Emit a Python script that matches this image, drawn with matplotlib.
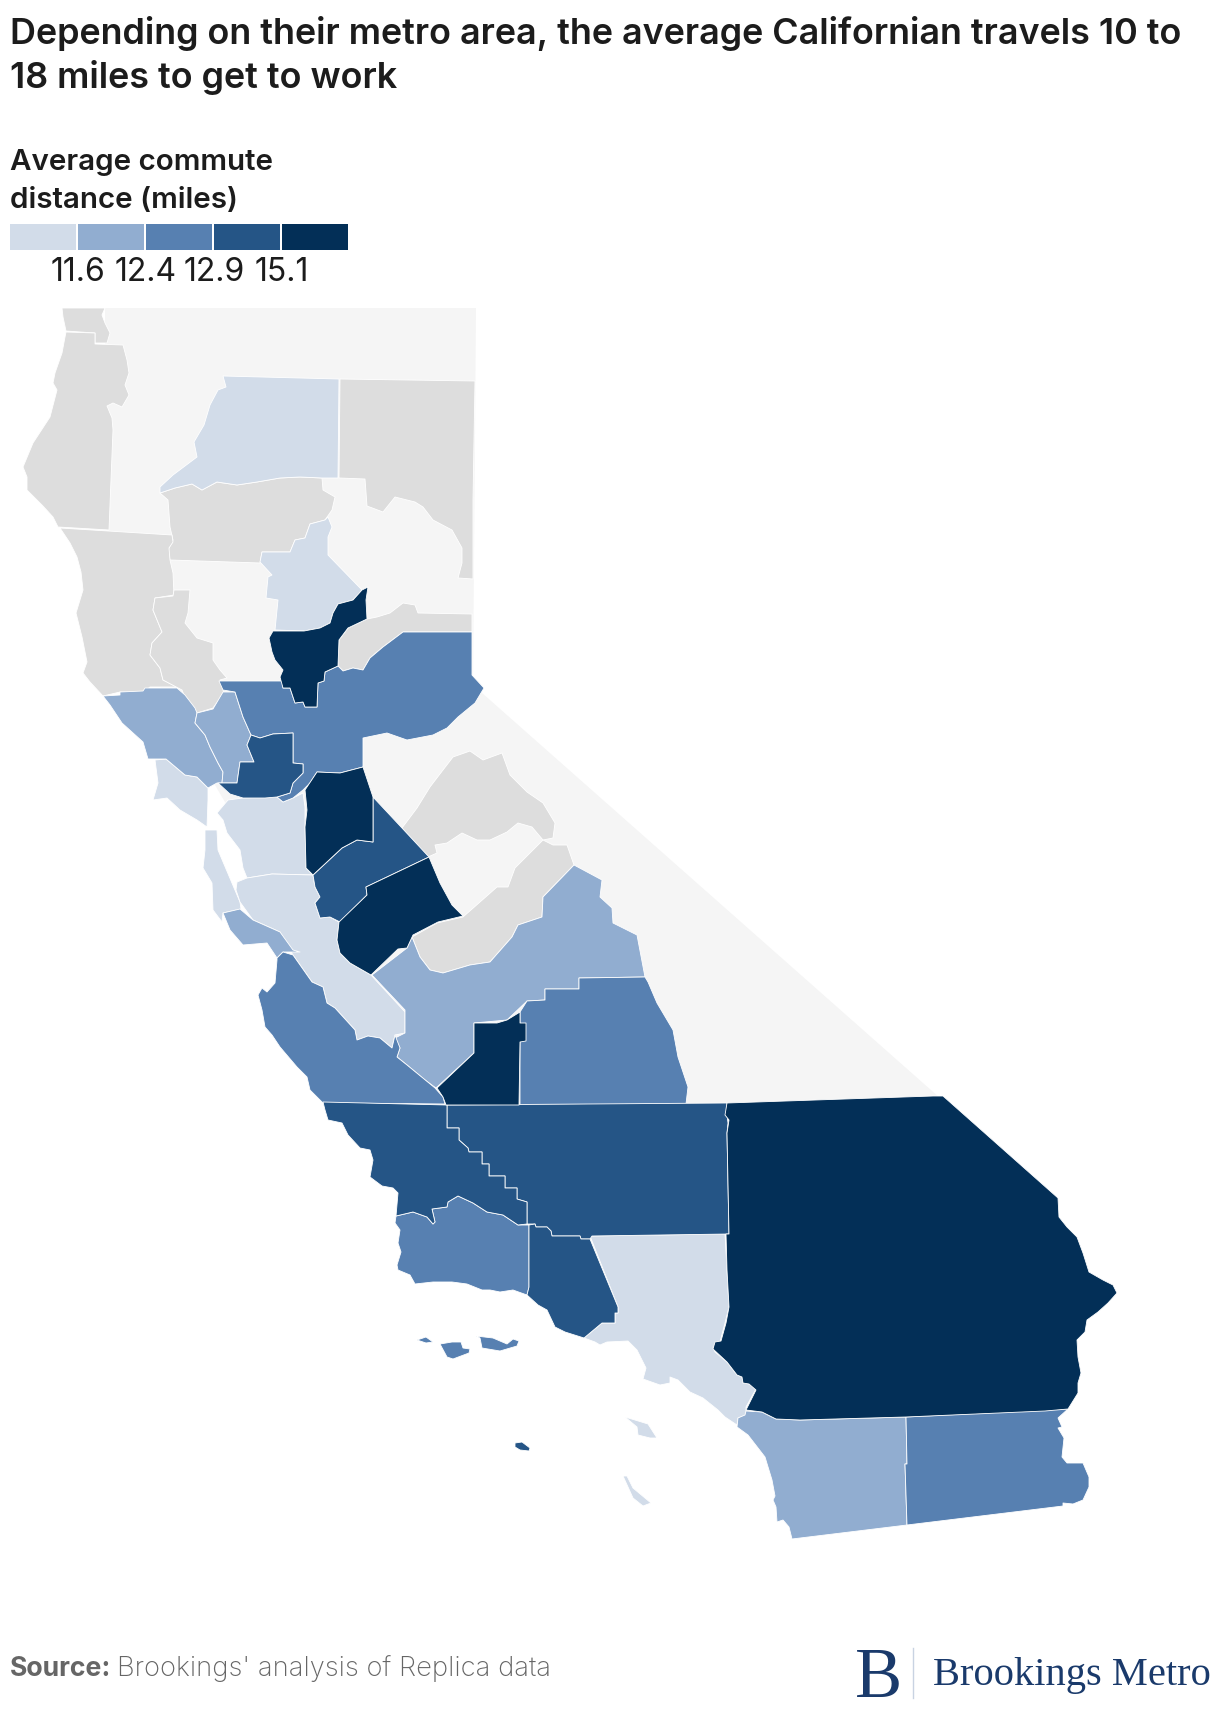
import matplotlib
matplotlib.use("Agg")
import matplotlib.pyplot as plt
from matplotlib.patches import Polygon, Rectangle

# ---- legend ----
BIN_COLORS = ["#d2dce9", "#91add0", "#5780b1", "#255586", "#032f57"]
BREAK_LABELS = ["11.6", "12.4", "12.9", "15.1"]
NO_DATA = "#dddddd"
BASE = "#f5f5f5"

# ---- map outlines, in map units ----
state_base = [(105,308),(476,308),(473,685),(940,1098),(690,1106),(400,1100),(165,700),(105,520)]

del_norte = [(62,308),(105,308),(102,315),(105,323),(110,333),(107,343),(95,343),(95,333),(66,331),(63,317)]
humboldt = [(66,332),(95,333),(95,344),(123,345),(127,360),(129,373),(125,385),(129,395),(122,407),(113,403),(107,406),(112,418),(113,430),(109,530),(58,527),(53,517),(42,505),(27,490),(27,477),(23,467),(33,443),(50,417),(57,390),(53,383),(55,373),(62,353),(65,337)]
lassen = [(340,379),(475,381),(473,500),(473,579),(458,578),(462,563),(462,548),(452,530),(433,520),(423,507),(415,502),(395,497),(383,512),(367,506),(365,479),(339,478)]
tehama = [(160,493),(175,488),(192,484),(202,490),(217,482),(237,485),(257,482),(280,478),(300,477),(322,478),(323,490),(335,497),(332,510),(325,520),(310,524),(305,538),(295,540),(290,552),(262,552),(260,563),(170,560),(168,550),(173,540),(170,527),(168,500)]
mendocino = [(60,528),(172,535),(173,542),(169,548),(170,560),(173,573),(174,595),(155,598),(153,610),(162,632),(152,643),(150,655),(160,668),(163,680),(177,687),(150,687),(144,692),(120,692),(103,696),(90,682),(83,673),(87,662),(82,637),(76,613),(83,590),(81,572),(77,557),(70,543)]
lake = [(174,590),(190,590),(188,613),(185,623),(197,638),(213,643),(213,660),(220,670),(227,678),(220,680),(224,693),(213,708),(197,713),(188,705),(182,690),(163,680),(160,668),(150,655),(152,643),(162,632),(153,610),(155,598),(173,596)]
nevada = [(367,619),(377,617),(390,613),(403,603),(415,605),(418,613),(472,614),(472,632),(403,632),(383,647),(370,658),(363,670),(353,668),(343,671),(338,666),(339,640),(348,628)]
tuolumne = [(402,828),(417,808),(430,787),(443,770),(453,757),(470,751),(483,760),(502,753),(510,775),(527,792),(543,803),(555,823),(553,838),(543,840),(532,827),(518,823),(507,832),(490,840),(477,840),(462,833),(447,843),(435,845),(437,853),(428,857)]
madera = [(543,840),(553,845),(567,845),(574,865),(543,897),(542,917),(518,925),(512,937),(490,962),(470,965),(443,973),(430,970),(420,957),(412,937),(437,923),(463,917),(497,887),(508,887),(515,868)]

shasta = [(223,376),(339,379),(338,478),(322,478),(300,477),(280,478),(257,482),(237,485),(217,482),(202,490),(192,484),(175,488),(160,493),(160,487),(173,475),(197,457),(194,442),(204,425),(210,405),(218,390),(226,387)]
butte = [(328,517),(332,527),(328,537),(328,555),(362,590),(353,600),(338,604),(333,613),(330,623),(320,628),(304,631),(275,630),(278,600),(266,598),(268,577),(272,575),(260,562),(262,552),(290,552),(295,540),(305,538),(310,524),(325,520)]
yuba = [(368,587),(366,600),(367,619),(348,628),(339,640),(338,666),(325,672),(324,681),(318,683),(317,707),(305,707),(303,702),(295,703),(290,688),(283,688),(280,677),(283,670),(275,660),(272,652),(269,638),(273,631),(304,631),(320,628),(330,623),(333,613),(338,604),(353,600),(362,590)]
sacramento = [(219,681),(282,681),(283,688),(290,688),(295,703),(303,702),(305,707),(317,707),(318,683),(324,681),(325,672),(338,666),(343,671),(353,668),(363,670),(370,658),(383,647),(403,632),(472,632),(472,675),(484,688),(475,703),(458,717),(447,728),(433,735),(407,740),(387,733),(363,738),(363,767),(340,773),(317,772),(310,783),(303,790),(293,798),(283,802),(277,797),(290,793),(293,783),(303,773),(303,764),(293,763),(293,733),(273,734),(260,738),(251,735),(243,717),(235,692),(223,690)]
sonoma = [(103,696),(120,695),(120,692),(143,691),(145,688),(177,688),(185,695),(195,708),(197,713),(195,723),(205,735),(210,747),(218,763),(223,772),(222,783),(217,783),(208,788),(197,777),(185,775),(166,759),(148,759),(143,742),(122,723),(110,705)]
napa = [(197,713),(213,709),(223,692),(235,692),(243,717),(251,735),(247,745),(254,762),(240,762),(237,783),(222,783),(223,772),(218,763),(210,747),(205,735),(195,723)]
solano = [(251,735),(260,738),(273,734),(293,733),(293,763),(303,764),(303,773),(293,783),(290,793),(277,797),(265,798),(243,798),(230,794),(218,783),(237,783),(240,762),(254,762),(247,745)]
marin = [(155,760),(166,759),(185,775),(197,777),(208,788),(208,800),(207,827),(197,820),(180,810),(167,798),(153,800),(158,783)]
alameda = [(228,800),(243,798),(267,797),(277,797),(283,802),(293,798),(303,793),(305,807),(305,827),(306,868),(313,875),(272,874),(247,878),(243,868),(240,850),(227,833),(223,820),(217,813)]
san_mateo = [(205,830),(217,830),(218,850),(240,902),(241,909),(223,913),(222,922),(213,910),(212,883),(203,868),(205,850)]
santa_cruz = [(223,913),(240,909),(253,920),(280,932),(293,950),(300,952),(283,952),(277,958),(267,943),(243,945),(230,930)]
santa_clara = [(237,882),(247,878),(272,874),(313,875),(315,887),(320,897),(315,903),(320,918),(330,917),(339,922),(337,940),(340,953),(350,963),(371,975),(405,1012),(405,1033),(395,1035),(392,1048),(380,1038),(368,1036),(357,1040),(355,1030),(335,1008),(327,1003),(323,987),(312,982),(293,955),(280,932),(253,920),(240,902),(236,890)]
monterey = [(277,958),(283,952),(293,955),(312,982),(323,987),(327,1003),(335,1008),(355,1030),(357,1040),(368,1036),(380,1038),(392,1048),(395,1035),(400,1048),(397,1057),(407,1065),(435,1088),(443,1097),(445,1104),(323,1103),(310,1090),(307,1077),(297,1067),(280,1047),(272,1035),(265,1027),(262,1010),(258,995),(262,988),(267,992),(275,983),(277,960)]
san_joaquin = [(317,772),(340,773),(363,767),(373,797),(373,842),(357,840),(342,848),(313,875),(306,868),(305,827),(307,810),(305,790)]
stanislaus = [(373,797),(402,828),(429,857),(366,887),(367,895),(340,922),(330,917),(320,918),(315,903),(320,897),(315,887),(313,875),(342,848),(357,840),(373,842)]
merced = [(366,887),(429,857),(440,883),(452,905),(463,916),(438,922),(413,935),(407,948),(398,949),(371,975),(350,963),(340,953),(337,940),(339,922),(367,895)]
fresno = [(372,975),(407,948),(412,937),(420,957),(430,970),(443,973),(470,965),(490,962),(512,937),(518,925),(542,917),(543,897),(574,865),(602,880),(600,897),(612,908),(613,923),(637,935),(645,977),(579,978),(579,989),(545,989),(545,1000),(527,1001),(507,1020),(474,1023),(474,1053),(436,1088),(425,1080),(407,1065),(397,1057),(400,1048),(395,1038),(405,1033),(405,1010)]
kings = [(437,1088),(474,1053),(474,1023),(497,1023),(507,1020),(520,1012),(520,1023),(526,1023),(526,1041),(520,1042),(519,1105),(446,1105),(443,1097)]
tulare = [(520,1105),(520,1012),(527,1001),(545,1000),(545,989),(579,989),(579,978),(645,977),(648,982),(657,1003),(673,1030),(678,1057),(688,1087),(686,1104)]
kern = [(447,1105),(727,1103),(727,1115),(728,1123),(727,1133),(729,1234),(592,1236),(590,1239),(581,1239),(580,1236),(552,1236),(551,1231),(547,1227),(536,1227),(535,1224),(527,1224),(527,1202),(517,1199),(517,1188),(505,1188),(505,1176),(489,1176),(489,1164),(482,1164),(482,1152),(469,1152),(468,1148),(459,1140),(459,1128),(447,1128)]
san_luis = [(323,1102),(447,1105),(447,1128),(459,1128),(459,1140),(468,1148),(469,1152),(482,1152),(482,1164),(489,1164),(489,1176),(505,1176),(505,1188),(517,1188),(517,1199),(527,1202),(527,1224),(518,1225),(503,1215),(487,1212),(473,1203),(458,1196),(448,1202),(447,1207),(432,1209),(435,1222),(433,1224),(427,1217),(413,1212),(396,1216),(398,1193),(393,1188),(382,1186),(370,1177),(373,1160),(370,1150),(360,1148),(348,1135),(342,1123),(328,1120),(325,1110)]
santa_barbara = [(396,1216),(413,1212),(427,1217),(433,1224),(435,1222),(432,1209),(447,1207),(448,1202),(458,1196),(473,1203),(487,1212),(503,1215),(518,1225),(529,1225),(529,1287),(527,1295),(513,1290),(500,1292),(490,1290),(482,1290),(467,1284),(452,1282),(433,1282),(415,1284),(410,1275),(398,1270),(397,1265),(401,1252),(398,1243),(400,1230),(395,1223)]
ventura = [(529,1225),(535,1224),(536,1227),(547,1227),(551,1231),(552,1236),(580,1236),(581,1239),(590,1239),(618,1307),(618,1313),(615,1313),(615,1323),(602,1323),(584,1338),(565,1332),(555,1327),(547,1310),(538,1305),(527,1295),(529,1287)]
los_angeles = [(590,1236),(725,1234),(727,1270),(729,1307),(725,1323),(720,1342),(713,1347),(715,1352),(727,1362),(737,1375),(742,1377),(743,1383),(750,1384),(756,1389),(746,1407),(746,1415),(738,1418),(737,1425),(725,1417),(718,1410),(703,1398),(690,1392),(678,1380),(670,1377),(670,1383),(660,1385),(643,1379),(646,1368),(637,1350),(628,1341),(607,1342),(600,1345),(595,1342),(584,1338),(602,1323),(615,1323),(615,1313),(618,1313),(618,1307)]
riverside = [(727,1103),(933,1096),(943,1096),(1058,1198),(1059,1217),(1067,1227),(1077,1237),(1083,1253),(1089,1272),(1103,1280),(1113,1285),(1117,1293),(1108,1303),(1098,1312),(1087,1320),(1085,1332),(1077,1340),(1078,1357),(1081,1373),(1078,1383),(1078,1393),(1068,1409),(1045,1411),(906,1417),(800,1420),(776,1419),(762,1412),(746,1410),(756,1390),(749,1384),(743,1383),(742,1377),(737,1375),(727,1362),(713,1349),(715,1342),(721,1341),(726,1323),(729,1307),(727,1270),(726,1234),(729,1234),(727,1133),(729,1120),(725,1115)]
san_diego = [(746,1411),(762,1412),(776,1419),(800,1420),(906,1417),(907,1464),(905,1464),(907,1525),(792,1539),(789,1527),(783,1520),(777,1522),(776,1507),(773,1500),(775,1496),(772,1480),(765,1457),(748,1435),(737,1427),(738,1418),(745,1415)]
imperial = [(906,1417),(1068,1409),(1058,1418),(1062,1427),(1058,1428),(1064,1438),(1062,1457),(1067,1463),(1083,1463),(1089,1477),(1089,1487),(1083,1500),(1073,1504),(1063,1503),(1063,1506),(907,1525),(905,1464),(907,1464)]
san_miguel = [(417,1340),(426,1337),(433,1342),(426,1343)]
santa_rosa = [(440,1344),(452,1342),(461,1342),(463,1348),(470,1349),(469,1353),(453,1359),(447,1357)]
santa_cruz_isl = [(476,1336),(493,1338),(507,1344),(513,1339),(519,1341),(517,1346),(500,1351),(482,1348),(480,1338)]
san_nicolas = [(515,1443),(522,1442),(530,1448),(529,1451),(520,1450),(515,1447)]
catalina = [(625,1417),(635,1420),(648,1424),(657,1438),(650,1438),(638,1435),(637,1427)]
san_clemente = [(623,1476),(627,1476),(633,1488),(651,1503),(643,1506),(633,1498),(628,1487)]

no_data_areas = [del_norte, humboldt, lassen, tehama, mendocino, lake, nevada, tuolumne, madera]
bin0_areas = [shasta, butte, marin, alameda, san_mateo, santa_clara, los_angeles, catalina, san_clemente]
bin1_areas = [sonoma, napa, santa_cruz, fresno, san_diego]
bin2_areas = [sacramento, monterey, tulare, santa_barbara, imperial, san_miguel, santa_rosa, santa_cruz_isl]
bin3_areas = [solano, stanislaus, kern, san_luis, ventura, san_nicolas]
bin4_areas = [yuba, san_joaquin, merced, kings, riverside]

TITLE = ["Depending on their metro area, the average Californian travels 10 to", "18 miles to get to work"]
LEGEND_TITLE = ["Average commute", "distance (miles)"]
TEXT = "#1c1c1c"

plt.rcParams["font.family"] = ["Inter", "DejaVu Sans"]
fig = plt.figure(figsize=(12.2, 17.1), dpi=100, facecolor="white")
ax = fig.add_axes([0, 0, 1, 1])
ax.set_xlim(0, 1220)
ax.set_ylim(1710, 0)
ax.axis("off")

ax.add_patch(Polygon(state_base, closed=True, fc=BASE, ec="none", zorder=1))
groups = [(no_data_areas, NO_DATA)] + list(zip([bin0_areas, bin1_areas, bin2_areas, bin3_areas, bin4_areas], BIN_COLORS))
for areas, color in groups:
    for pts in areas:
        ax.add_patch(Polygon(pts, closed=True, fc=color, ec="white", lw=0.6, joinstyle="round", zorder=2))

ax.text(10, 44, TITLE[0], fontsize=25.9, fontweight="semibold", color=TEXT, va="baseline")
ax.text(10, 88, TITLE[1], fontsize=25.9, fontweight="semibold", color=TEXT, va="baseline")
ax.text(10, 170, LEGEND_TITLE[0], fontsize=21.3, fontweight="semibold", color=TEXT, va="baseline")
ax.text(10, 208, LEGEND_TITLE[1], fontsize=21.3, fontweight="semibold", color=TEXT, va="baseline")

for i, color in enumerate(BIN_COLORS):
    ax.add_patch(Rectangle((10 + 68 * i, 224), 66, 26, fc=color, ec="none"))
for i, lab in enumerate(BREAK_LABELS):
    ax.text(78 + 68 * i, 281, lab, fontsize=23, color=TEXT, ha="center", va="baseline")

ax.text(10, 1676, "Source:", fontsize=19.2, fontweight="bold", color="#666666", va="baseline")
ax.text(117, 1676, "Brookings' analysis of Replica data", fontsize=19.7, fontweight="light", color="#666666", va="baseline")

LOGO = "#1a3a6b"
ax.text(855, 1697, "B", fontsize=51, family="Liberation Serif", color=LOGO, va="baseline")
ax.plot([913, 913], [1648, 1698], color="#c9d3e2", lw=1)
ax.text(933, 1685, "Brookings Metro", fontsize=29.2, family="Liberation Serif", color=LOGO, va="baseline")

fig.savefig("out.png", dpi=100, facecolor="white")
